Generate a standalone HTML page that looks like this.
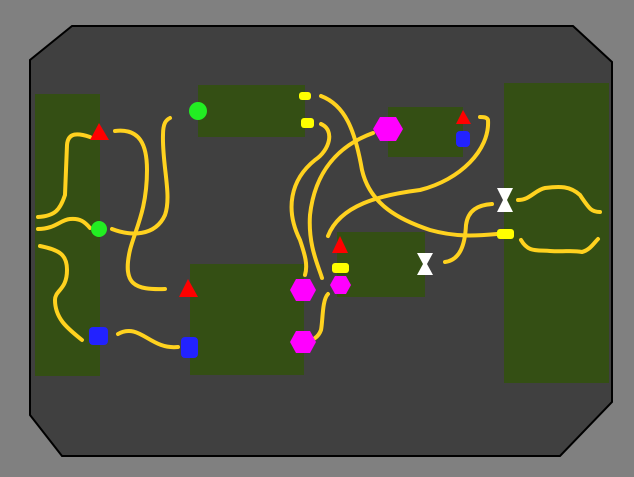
<!DOCTYPE html>
<html><head><meta charset="utf-8"><style>
html,body{margin:0;padding:0;background:#808080;}
svg{display:block;}
</style></head><body>
<svg width="634" height="477" viewBox="0 0 634 477" xmlns="http://www.w3.org/2000/svg">
<rect x="0" y="0" width="634" height="477" fill="#808080"/>
<polygon points="72,26 573,26 612,62 612,402 560,456 62,456 30,415 30,60" fill="#404040" stroke="#000" stroke-width="2"/>
<g fill="#344f14">
<rect x="35" y="94" width="65" height="282"/>
<rect x="198" y="85" width="107" height="52"/>
<rect x="190" y="264" width="114" height="111"/>
<rect x="388" y="107" width="75" height="50"/>
<rect x="337" y="232" width="88" height="65"/>
<rect x="504" y="83" width="105" height="300"/>
</g>
<g fill="none" stroke="#ffd21f" stroke-width="4" stroke-linecap="round">
<path d="M38,217 C55,216 60,210 65,195 L67,145 C68,132 78,133 90,137"/>
<path d="M38,229 C55,229 60,220 70,219 C80,218 85,222 90,228"/>
<path d="M40,246 C60,250 67,255 67,270 C67,290 55,290 55,300 C55,320 70,330 82,340"/>
<path d="M115,131 C140,128 147,145 147,170 C147,210 135,230 130,250 C122,285 135,290 165,289"/>
<path d="M112,229 C130,236 155,237 165,215 C172,195 162,165 163,135 C163,123 166,120 170,118"/>
<path d="M118,334 C140,322 150,350 178,347"/>
<path d="M321,96 C345,105 355,130 362,170 C370,205 400,220 430,230 C455,237 475,236 497,234"/>
<path d="M321,124 C335,130 330,150 315,160 C290,180 285,210 300,240 C305,255 308,265 305,275"/>
<path d="M373,133 C340,145 315,170 310,215 C308,245 318,265 322,278"/>
<path d="M328,236 C340,205 380,195 420,190 C460,180 490,150 488,120 C487,117 483,117 480,117"/>
<path d="M328,294 C322,300 323,320 321,330 C318,338 312,340 310,340"/>
<path d="M445,262 C460,260 465,245 466,225 C468,210 478,205 492,204"/>
<path d="M518,200 C530,200 535,190 545,188 C560,186 570,186 580,195 C590,210 592,212 600,212"/>
<path d="M521,240 C528,252 535,250 550,251 C565,252 572,250 582,252 C590,250 594,243 598,239"/>
</g>
<g fill="#ff0000">
<polygon points="99,123 90,140 109,140"/>
<polygon points="188,279 179,297 198,297"/>
<polygon points="340,236 332,253 348,253"/>
<polygon points="463,110 456,124 471,124"/>
</g>
<circle cx="99" cy="229" r="8" fill="#22ee22"/>
<circle cx="198" cy="111" r="9" fill="#22ee22"/>
<g fill="#2222ff">
<rect x="89" y="327" width="19" height="18" rx="4"/>
<rect x="181" y="337" width="17" height="21" rx="4"/>
<rect x="456" y="131" width="14" height="16" rx="4"/>
</g>
<g fill="#ff00ff">
<polygon points="290,290 296,279 310,279 316,290 310,301 296,301"/>
<polygon points="290,342 296,331 310,331 316,342 310,353 296,353"/>
<polygon points="330,285 335,276 346,276 351,285 346,294 335,294"/>
<polygon points="373,129 380,117 396,117 403,129 396,141 380,141"/>
</g>
<g fill="#ffff00">
<rect x="299" y="92" width="12" height="8" rx="3"/>
<rect x="301" y="118" width="13" height="10" rx="3"/>
<rect x="332" y="263" width="17" height="10" rx="3"/>
<rect x="497" y="229" width="17" height="10" rx="3"/>
</g>
<g fill="#ffffff">
<polygon points="497,188 513,188 507,200 513,212 497,212 503,200"/>
<polygon points="417,253 433,253 427,264 433,275 417,275 423,264"/>
</g>
</svg>
</body></html>
